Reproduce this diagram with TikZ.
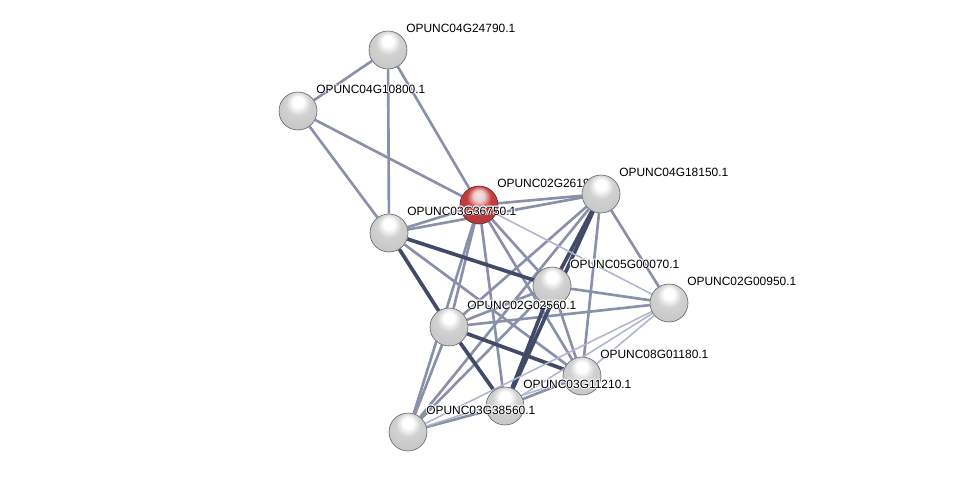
\documentclass[tikz,border=0pt]{standalone}
\usepackage{fontspec}
\setmainfont{Liberation Sans}
\usepackage{tikz}
\usetikzlibrary{shadings,backgrounds}

\definecolor{edgemid}{RGB}{136,144,170}
\definecolor{edgedark}{RGB}{66,74,104}
\definecolor{edgelight}{RGB}{176,182,205}
\definecolor{protred}{RGB}{196,62,62}

% sphere look of the protein nodes
\pgfdeclareradialshading{greyball}{\pgfpoint{0bp}{14bp}}{color(0bp)=(white); color(7bp)=(white); color(16bp)=(white!82!black);
  color(30bp)=(white!78!black); color(40bp)=(white!87!black); color(46bp)=(white!68!black); color(50bp)=(white!50!black)}
\pgfdeclareradialshading{redball}{\pgfpoint{0bp}{14bp}}{color(0bp)=(white!85!protred); color(7bp)=(white!75!protred); color(16bp)=(protred);
  color(30bp)=(protred!92!black); color(40bp)=(white!40!protred); color(46bp)=(protred!85!black); color(50bp)=(protred!60!black)}

\newcommand{\halotext}[1]{\leavevmode
  \rlap{\color{white}\kern0.5pt#1}\rlap{\color{white}\kern-0.5pt#1}%
  \rlap{\color{white}\raisebox{0.5pt}{#1}}\rlap{\color{white}\raisebox{-0.5pt}{#1}}%
  \rlap{\color{white}\kern0.4pt\raisebox{0.4pt}{#1}}\rlap{\color{white}\kern-0.4pt\raisebox{-0.4pt}{#1}}%
  \rlap{\color{white}\kern0.4pt\raisebox{-0.4pt}{#1}}\rlap{\color{white}\kern-0.4pt\raisebox{0.4pt}{#1}}#1}

\tikzset{
  prot/.style={circle, minimum size=0.76cm, inner sep=0pt, draw=gray!80!black, line width=0.35pt, shading=greyball},
  seed/.style={prot, shading=redball, draw=protred!55!black},
  lbl/.style={anchor=west, inner sep=0pt, font=\fontsize{6.8}{8}\selectfont},
  med/.style={edgemid, line width=1.5pt},
  dark/.style={edgedark, line width=2.1pt},
  light/.style={edgelight, line width=0.9pt},
}

\begin{document}
\begin{tikzpicture}[x=0.02cm, y=-0.02cm]
 \useasboundingbox (0,0) rectangle (975,478);

 % proteins, drawn in order so that labels overlap as in the network view
 \foreach \n/\x/\y/\name in {g24790/388/50/OPUNC04G24790.1, g10800/298/111/OPUNC04G10800.1, g26190/479/205/OPUNC02G26190.1,
           g36750/389/233/OPUNC03G36750.1, g18150/601/194/OPUNC04G18150.1, g00070/552/286/OPUNC05G00070.1,
           g02560/449/327/OPUNC02G02560.1, g00950/669/303/OPUNC02G00950.1, g01180/582/376/OPUNC08G01180.1,
           g11210/505/406/OPUNC03G11210.1, g38560/408/432/OPUNC03G38560.1}{
   \ifnum\x=479
     \node[seed] (\n) at (\x,\y) {};
   \else
     \node[prot] (\n) at (\x,\y) {};
   \fi
   \node[lbl] (\n lab) at (\x+18,\y-22) {\halotext{\name}};
 }

 \begin{pgfonlayer}{background}
 \foreach \a/\b in {g24790/g10800, g24790/g36750, g24790/g26190, g10800/g36750, g10800/g26190,
           g26190/g36750, g26190/g18150, g26190/g00070, g26190/g02560, g26190/g11210, g26190/g01180,
           g26190/g38560, g36750/g18150, g36750/g01180, g18150/g02560, g18150/g01180, g18150/g00950,
           g18150/g38560, g00070/g00950, g00070/g02560, g00070/g01180, g00070/g38560, g00950/g02560,
           g01180/g11210, g11210/g38560, g02560/g38560}{
   \draw[med] (\a) -- (\b);
 }
 \foreach \a/\b in {g36750/g02560, g36750/g00070, g18150/g00070, g18150/g11210, g00070/g11210,
           g02560/g01180, g02560/g11210}{
   \draw[dark] (\a) -- (\b);
 }
 \foreach \a/\b in {g26190/g00950, g00950/g01180, g00950/g11210, g00950/g38560, g01180/g38560}{
   \draw[light] (\a) -- (\b);
 }
 \end{pgfonlayer}

\end{tikzpicture}
\end{document}
